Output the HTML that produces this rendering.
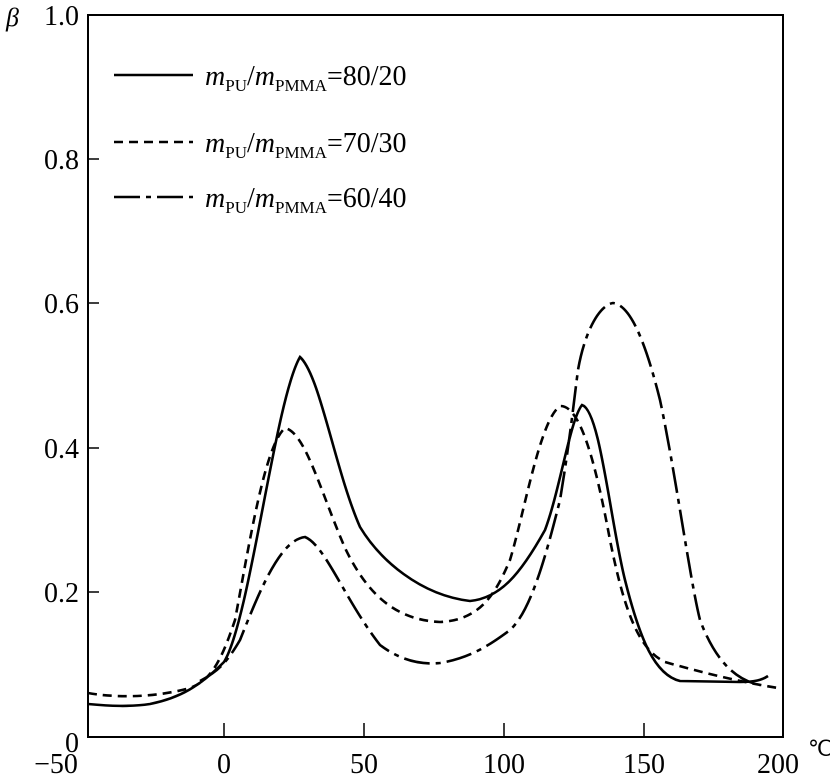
<!DOCTYPE html>
<html><head><meta charset="utf-8"><style>
body{margin:0;background:#fff}
svg text{font-family:"Liberation Serif",serif;fill:#000}
</style></head><body>
<svg width="830" height="776" viewBox="0 0 830 776" xmlns="http://www.w3.org/2000/svg">
<rect x="88" y="15" width="695" height="722" fill="none" stroke="#000" stroke-width="2"/>
<g stroke="#000" stroke-width="1.5">
<line x1="88" y1="159" x2="99" y2="159"/><line x1="88" y1="303" x2="99" y2="303"/>
<line x1="88" y1="448" x2="99" y2="448"/><line x1="88" y1="592" x2="99" y2="592"/>
<line x1="224" y1="737" x2="224" y2="723"/><line x1="364" y1="737" x2="364" y2="723"/>
<line x1="504" y1="737" x2="504" y2="723"/><line x1="644" y1="737" x2="644" y2="723"/>
</g>
<g font-size="28" text-anchor="end">
<text x="79" y="25">1.0</text><text x="79" y="169">0.8</text><text x="79" y="313">0.6</text>
<text x="79" y="458">0.4</text><text x="79" y="602">0.2</text><text x="79" y="752">0</text>
</g>
<text x="6" y="26" font-size="26" font-style="italic">β</text>
<g font-size="28" text-anchor="middle">
<text x="56" y="773">−50</text><text x="224" y="773">0</text><text x="364" y="773">50</text>
<text x="504" y="773">100</text><text x="644" y="773">150</text><text x="778" y="773">200</text>
</g>
<text x="808" y="756" font-size="22">℃</text>
<g fill="none" stroke="#000" stroke-width="2.6">
<path d="M88,704 C110,706 130,707 150,704 C180,698 200,686 224,662 C250,620 275,400 300,357 C320,375 335,470 360,527 C380,560 420,595 470,601 C500,598 520,575 545,530 C560,490 570,420 582,405 C600,410 610,520 625,580 C640,640 655,675 680,681 L740,682 C755,682 762,680 768,676"/>
<path stroke-dasharray="9,6" d="M88,693 C110,697 150,699 190,688 C210,680 220,665 235,620 C250,540 265,445 285,428 C305,432 320,490 345,548 C370,600 400,620 440,622 C480,620 495,595 510,560 C525,510 540,420 560,406 C580,405 595,460 610,540 C625,615 640,650 665,662 C700,672 740,682 778,688"/>
<path stroke-dasharray="26,6,5,6" d="M200,681 C215,673 225,666 240,640 C260,590 280,540 305,537 C325,545 345,600 380,645 C400,660 420,665 440,663 C470,658 490,645 510,630 C530,612 545,560 560,500 C570,440 574,400 578,370 C585,330 600,305 613,303 C630,305 645,340 660,400 C675,470 690,580 700,620 C715,660 735,680 760,685"/>
<line x1="114" y1="75" x2="193" y2="75"/>
<line x1="114" y1="142" x2="193" y2="142" stroke-dasharray="9,6"/>
<line x1="114" y1="197" x2="193" y2="197" stroke-dasharray="26,6,5,6"/>
</g>
<g font-size="28">
<text x="205" y="85"><tspan font-style="italic">m</tspan><tspan font-size="17" dy="6">PU</tspan><tspan dy="-6">/</tspan><tspan font-style="italic">m</tspan><tspan font-size="17" dy="6">PMMA</tspan><tspan dy="-6">=80/20</tspan></text>
<text x="205" y="152"><tspan font-style="italic">m</tspan><tspan font-size="17" dy="6">PU</tspan><tspan dy="-6">/</tspan><tspan font-style="italic">m</tspan><tspan font-size="17" dy="6">PMMA</tspan><tspan dy="-6">=70/30</tspan></text>
<text x="205" y="207"><tspan font-style="italic">m</tspan><tspan font-size="17" dy="6">PU</tspan><tspan dy="-6">/</tspan><tspan font-style="italic">m</tspan><tspan font-size="17" dy="6">PMMA</tspan><tspan dy="-6">=60/40</tspan></text>
</g>
</svg>
</body></html>
